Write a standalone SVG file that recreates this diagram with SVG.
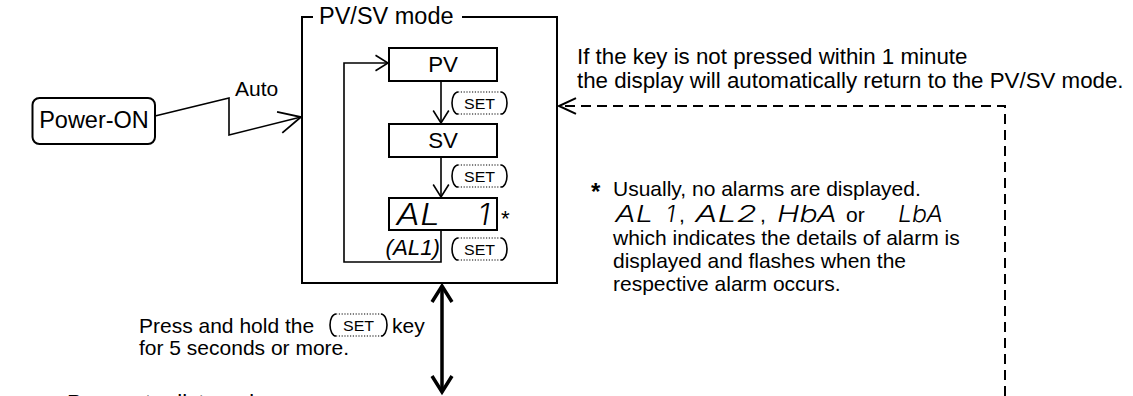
<svg xmlns="http://www.w3.org/2000/svg" width="1133" height="396" viewBox="0 0 1133 396">
<style>
text{font-family:"Liberation Sans",Arial,sans-serif;fill:#000}
.t23{font-size:23.5px}
.t22{font-size:22.3px}
.t21{font-size:21px}
.it{font-style:italic}
.seg{font-family:Inter,"Noto Sans",sans-serif;font-style:italic;font-weight:300}
.box{fill:#fff;stroke:#000;stroke-width:2}
.ln{fill:none;stroke:#000;stroke-width:1.6}
.dash{fill:none;stroke:#000;stroke-width:2;stroke-dasharray:10 6}
.thick{fill:none;stroke:#000;stroke-width:3.5}
.paren{fill:none;stroke:#000;stroke-width:1.6}
.dot{fill:none;stroke:#000;stroke-width:1.2;stroke-dasharray:1.2 1.6}
.set{font-size:15.5px}
</style>
<defs>
<marker id="aS" markerUnits="userSpaceOnUse" viewBox="-20 -20 40 40" markerWidth="40" markerHeight="40" refX="0" refY="0" orient="auto" overflow="visible">
<path d="M-12.5,-7.8 L0,0 L-12.5,7.8" fill="none" stroke="#000" stroke-width="1.6"/>
</marker>
<marker id="aA" markerUnits="userSpaceOnUse" viewBox="-30 -30 60 60" markerWidth="60" markerHeight="60" refX="0" refY="0" orient="auto" overflow="visible">
<path d="M-22,-10.8 L0,0 L-22,10.8" fill="none" stroke="#000" stroke-width="1.8"/>
</marker>
<marker id="aD" markerUnits="userSpaceOnUse" viewBox="-30 -30 60 60" markerWidth="60" markerHeight="60" refX="0" refY="0" orient="auto" overflow="visible">
<path d="M-17,-7.8 L0,0 L-17,7.8" fill="none" stroke="#000" stroke-width="2" stroke-dasharray="none"/>
</marker>
<marker id="aT" markerUnits="userSpaceOnUse" viewBox="-30 -30 60 60" markerWidth="60" markerHeight="60" refX="0" refY="0" orient="auto-start-reverse" overflow="visible">
<path d="M-16,-10 L0,0 L-16,10" fill="none" stroke="#000" stroke-width="3.5"/>
</marker>
</defs>
<rect x="0" y="0" width="1133" height="396" fill="#fff"/>

<g id="connectors">
<polyline class="ln" points="155,116 229,98 229,135 301,117" marker-end="url(#aA)"/>
<line class="ln" x1="441" y1="81" x2="441" y2="123" marker-end="url(#aS)"/>
<line class="ln" x1="441" y1="157" x2="441" y2="197" marker-end="url(#aS)"/>
<polyline class="ln" points="441,230 441,262 344,262 344,63 388,63" marker-end="url(#aS)"/>
<path class="dash" d="M1005,396 V106 H559" marker-end="url(#aD)"/>
<line class="thick" x1="442" y1="286" x2="442" y2="392" marker-start="url(#aT)" marker-end="url(#aT)"/>
</g>

<g id="power-on">
<rect class="box" x="32.5" y="98" width="122.5" height="46" rx="7"/>
<text class="t23" x="94" y="128" text-anchor="middle">Power-ON</text>
</g>
<text class="t21" x="235" y="96">Auto</text>

<g id="pvsv-mode">
<path class="box" style="fill:none" d="M313,17 H302 V283 H557 V17 H462"/>
<text class="t23" x="319" y="24">PV/SV mode</text>
</g>

<g id="pv">
<rect class="box" x="389" y="48" width="108" height="33"/>
<text class="t22" x="443" y="72" text-anchor="middle">PV</text>
</g>
<g id="set1">
<path class="paren" d="M458,92 A6,11 0 0 0 458,114 M501,92 A6,11 0 0 1 501,114"/>
<path class="dot" d="M458,92 H501 M458,114 H501"/>
<text class="set" x="479.5" y="108.5" text-anchor="middle" textLength="31" lengthAdjust="spacingAndGlyphs">SET</text>
</g>
<g id="sv">
<rect class="box" x="389" y="124" width="108" height="33"/>
<text class="t22" x="443" y="148" text-anchor="middle">SV</text>
</g>
<g id="set2">
<path class="paren" d="M458,165 A6,11 0 0 0 458,187 M501,165 A6,11 0 0 1 501,187"/>
<path class="dot" d="M458,165 H501 M458,187 H501"/>
<text class="set" x="479.5" y="181.5" text-anchor="middle" textLength="31" lengthAdjust="spacingAndGlyphs">SET</text>
</g>
<g id="al1">
<rect class="box" x="389" y="198" width="108" height="32"/>
<text class="seg" style="font-size:30px" x="396" y="225" textLength="44" lengthAdjust="spacingAndGlyphs">AL</text>
<text class="seg" style="font-size:30px" x="478" y="225">1</text>
<text class="t22" x="501" y="226">*</text>
<text class="t22 it" x="440" y="255" text-anchor="end">(AL1)</text>
</g>
<g id="set3">
<path class="paren" d="M458,238 A6,11 0 0 0 458,260 M501,238 A6,11 0 0 1 501,260"/>
<path class="dot" d="M458,238 H501 M458,260 H501"/>
<text class="set" x="479.5" y="254.5" text-anchor="middle" textLength="31" lengthAdjust="spacingAndGlyphs">SET</text>
</g>

<g id="timeout-note">
<text class="t22" x="577" y="64">If the key is not pressed within 1 minute</text>
<text class="t22" x="577" y="88">the display will automatically return to the PV/SV mode.</text>
</g>

<g id="footnote">
<text style="font-size:24px;font-weight:bold" x="591" y="200">*</text>
<text class="t21" x="613" y="196">Usually, no alarms are displayed.</text>
<text class="seg" style="font-size:23px" x="615" y="222" textLength="38" lengthAdjust="spacingAndGlyphs">AL</text>
<text class="seg" style="font-size:23px" x="666" y="222">1</text>
<text class="t21" x="679" y="222">,</text>
<text class="seg" style="font-size:23px" x="695" y="222" textLength="62" lengthAdjust="spacingAndGlyphs">AL2</text>
<text class="t21" x="760" y="222">,</text>
<text class="seg" style="font-size:23px" x="777" y="222" textLength="60" lengthAdjust="spacingAndGlyphs">HbA</text>
<text class="t21" x="846" y="222">or</text>
<text class="seg" style="font-size:23px" x="898" y="222" textLength="45" lengthAdjust="spacingAndGlyphs">LbA</text>
<text class="t21" x="613" y="245">which indicates the details of alarm is</text>
<text class="t21" x="613" y="268">displayed and flashes when the</text>
<text class="t21" x="613" y="291">respective alarm occurs.</text>
</g>

<g id="press-note">
<text class="t21" x="139" y="333">Press and hold the</text>
<g id="set4">
<path class="paren" d="M336,314 A6,11 0 0 0 336,336 M381,314 A6,11 0 0 1 381,336"/>
<path class="dot" d="M336,314 H381 M336,336 H381"/>
<text class="set" x="358.5" y="330.5" text-anchor="middle" textLength="31" lengthAdjust="spacingAndGlyphs">SET</text>
</g>
<text class="t21" x="392" y="333">key</text>
<text class="t21" x="139" y="355">for 5 seconds or more.</text>
</g>

<g id="parameter-mode">
<text class="t22" x="67" y="410">Parameter list mode</text>
</g>
</svg>
